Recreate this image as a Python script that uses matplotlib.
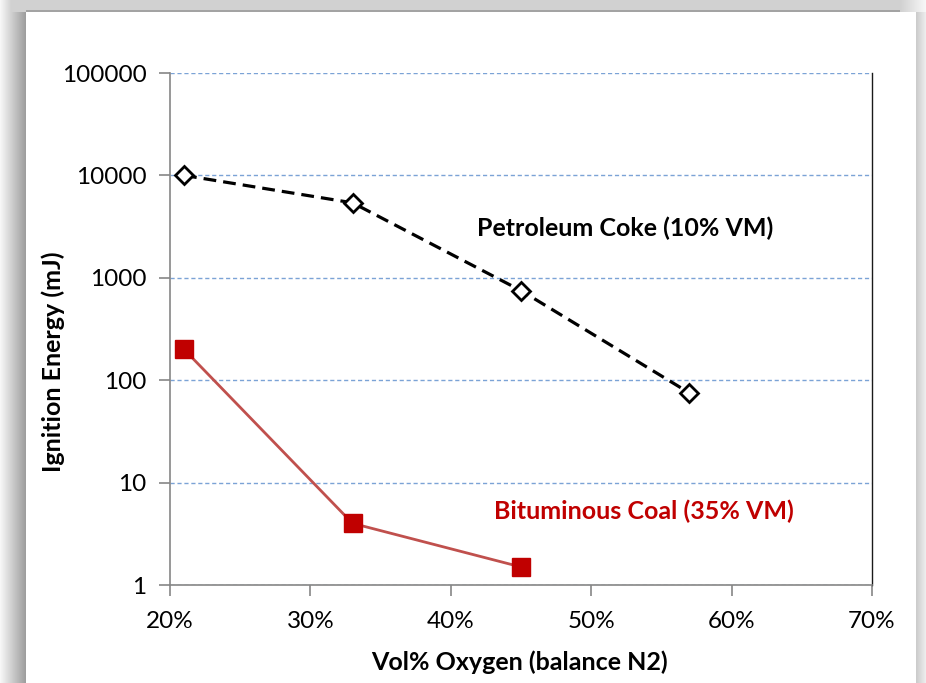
import numpy as np
import matplotlib
matplotlib.use("Agg")
import matplotlib.pyplot as plt
from matplotlib.ticker import FixedLocator, FuncFormatter

# ---- data ----
coke_o2 = [0.21, 0.33, 0.45, 0.57]
coke_energy = [10000, 5400, 750, 75]
coal_o2 = [0.21, 0.33, 0.45]
coal_energy = [200, 4, 1.5]
y_ticks = [1, 10, 100, 1000, 10000, 100000]
x_ticks = [0.2, 0.3, 0.4, 0.5, 0.6, 0.7]
coke_label = "Petroleum Coke (10% VM)"
coal_label = "Bituminous Coal (35% VM)"
x_title = "Vol% Oxygen (balance N2)"
y_title = "Ignition Energy (mJ)"

plt.rcParams['font.family'] = ['Lato', 'DejaVu Sans']

W, H = 926, 683
fig = plt.figure(figsize=(W / 100, H / 100), dpi=100)

# ---- background frame with shadow ----
bg = fig.add_axes([0, 0, 1, 1], zorder=-10)
img = np.ones((H, W, 3))
img[:12, :, :] = 0.82
img[10:12, 25:916, :] = 0.64
left_vals = np.linspace(0.97, 0.62, 26)
for i, v in enumerate(left_vals):
    img[:, i, :] = v
for i in range(26):
    img[:12, i, :] = max(left_vals[i], 0.82) if i < 20 else 0.82
right_vals = np.linspace(0.80, 0.93, W - 916)
for i, v in enumerate(right_vals):
    img[:, 916 + i, :] = v
img[:12, 900:, :] = np.linspace(0.82, 0.97, W - 900)[None, :, None]
bg.imshow(img, aspect='auto', extent=[0, 1, 0, 1], interpolation='nearest')
bg.set_axis_off()

ax = fig.add_axes([170 / W, 1 - 585 / H, (872 - 170) / W, (585 - 73) / H])
ax.set_yscale('log')
ax.set_ylim(1, 100000)
ax.set_xlim(0.2, 0.7)

ax.yaxis.set_major_locator(FixedLocator(y_ticks))
ax.yaxis.set_minor_locator(FixedLocator([]))
ax.yaxis.set_major_formatter(FuncFormatter(lambda v, p: f"{int(round(v))}"))
ax.xaxis.set_major_locator(FixedLocator(x_ticks))
ax.xaxis.set_major_formatter(FuncFormatter(lambda v, p: f"{int(round(v * 100))}%"))

ax.grid(axis='y', which='major', color='#7ba3d6', linestyle=(0, (3, 2)), linewidth=1.0)
ax.set_axisbelow(True)

for s in ['left', 'bottom']:
    ax.spines[s].set_color('#868686')
    ax.spines[s].set_linewidth(1.2)
ax.spines['top'].set_visible(False)
ax.spines['right'].set_color('#1a1a1a')
ax.spines['right'].set_linewidth(1.0)

ax.tick_params(axis='both', which='major', direction='out', length=8, width=1.2,
               color='#868686', labelsize=17.5, labelcolor='black')
ax.tick_params(axis='y', pad=9)
ax.tick_params(axis='x', pad=11)

ax.plot(coke_o2, coke_energy, color='black', linestyle=(0, (4, 2.2)), linewidth=2.3,
        marker='D', markersize=9, markerfacecolor='white', markeredgecolor='black',
        markeredgewidth=2.0, zorder=3, clip_on=False)
ax.plot(coal_o2, coal_energy, color='#c0504d', linewidth=2.0,
        marker='s', markersize=12.5, markerfacecolor='#c00000', markeredgecolor='#c00000',
        zorder=3, clip_on=False)

ax.text(0.524, 3070, coke_label, fontsize=18, fontweight='bold', color='black',
        ha='center', va='center')
ax.text(0.5376, 5.3, coal_label, fontsize=18, fontweight='bold', color='#c00000',
        ha='center', va='center')

ax.set_xlabel(x_title, fontsize=18, fontweight='bold', va='center')
ax.set_ylabel(y_title, fontsize=18, fontweight='bold', va='center')
ax.xaxis.set_label_coords((519 - 170) / 702, (585 - 662) / 512)
ax.yaxis.set_label_coords((53 - 170) / 702, (585 - 362) / 512)

fig.savefig('out.png', dpi=100)
